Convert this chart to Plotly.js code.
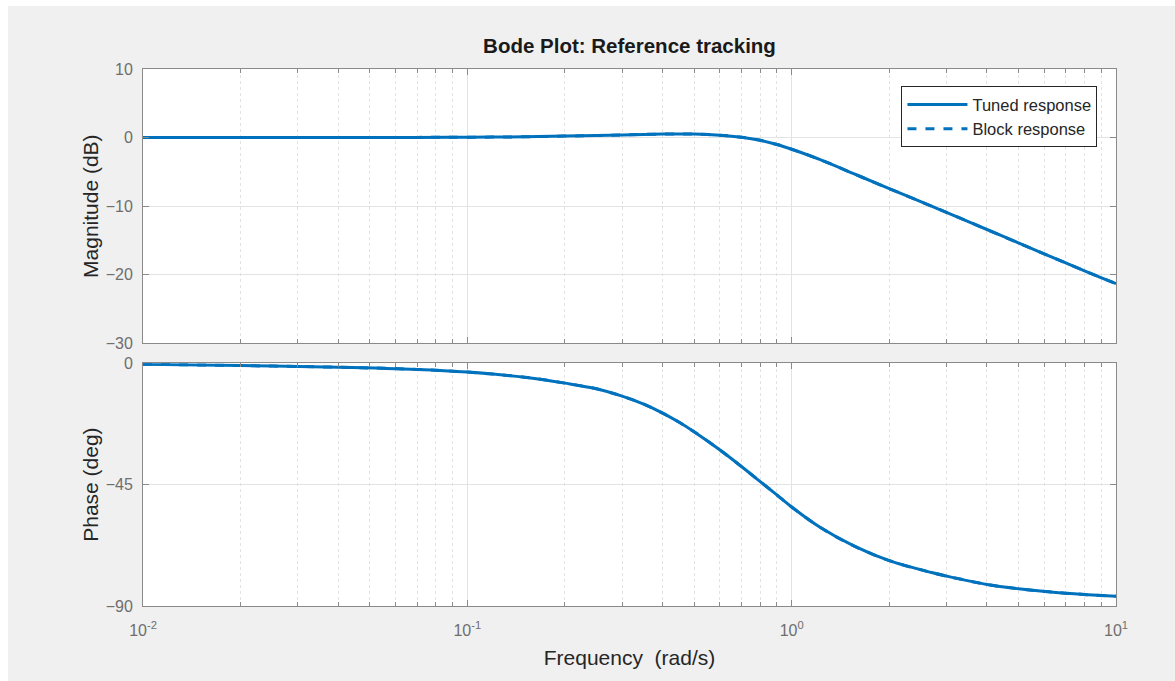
<!DOCTYPE html>
<html>
<head>
<meta charset="utf-8">
<script src="https://cdn.plot.ly/plotly-3.0.1.min.js"></script>
<style>
  html, body { margin: 0; padding: 0; background: #ffffff; }
  #chart { position: absolute; left: 8px; top: 6px; width: 1167px; height: 675px; }
</style>
</head>
<body>
<div id="chart"></div>
<script>
// Frequency grid (rad/s)
const freq = [0.01, 0.02, 0.04, 0.07, 0.1, 0.15, 0.2, 0.25, 0.3, 0.35, 0.4, 0.45, 0.5, 0.6, 0.7,
              0.8, 0.9, 1.0, 1.23, 1.56, 2.0, 2.7, 3.0, 4.0, 5.0, 6.4, 8.2, 10];

// Tuned response: magnitude (dB) and phase (deg)
const tunedMag = [0.00, 0.00, 0.01, 0.03, 0.05, 0.12, 0.22, 0.30, 0.38, 0.46, 0.52, 0.54, 0.52, 0.35, 0.05,
                  -0.40, -1.00, -1.70, -3.25, -5.30, -7.45, -10.00, -10.90, -13.40, -15.35, -17.50, -19.65, -21.30];
const tunedPhase = [-0.4, -0.9, -1.5, -2.3, -3.3, -5.2, -7.4, -9.5, -12.2, -15.2, -18.5, -21.9, -25.4, -32.1, -38.3,
                    -43.9, -48.8, -53.3, -61.0, -67.8, -73.2, -77.6, -78.9, -82.0, -83.6, -84.9, -85.8, -86.4];

// Block response (coincides with the tuned loop)
const blockMag = tunedMag.slice();
const blockPhase = tunedPhase.slice();

// Axis ticks
const xTickVals = [0.01, 0.1, 1, 10];
const xTickText = ['10<sup>-2</sup>', '10<sup>-1</sup>', '10<sup>0</sup>', '10<sup>1</sup>'];
const magTicks = [-30, -20, -10, 0, 10];
const phaseTicks = [-90, -45, 0];

// Minor (2..9 per decade) positions for the log axis
const minorVals = [];
for (let d = -2; d < 1; d++) {
  for (let m = 2; m <= 9; m++) minorVals.push(m * Math.pow(10, d));
}

const blue = '#0072BD';
const axisCol = '#8a8a8a';
const gridCol = '#e3e3e3';
const fam = 'Liberation Sans, Arial, sans-serif';
const tickFont = { family: fam, size: 16, color: '#6e6e6e' };
const labelFont = { family: fam, size: 21, color: '#262626' };

const traces = [
  { x: freq, y: blockMag, xaxis: 'x', yaxis: 'y', name: 'Block response', mode: 'lines',
    line: { color: blue, width: 3, dash: 'dash', shape: 'spline' }, showlegend: false },
  { x: freq, y: tunedMag, xaxis: 'x', yaxis: 'y', name: 'Tuned response', mode: 'lines',
    line: { color: blue, width: 3, shape: 'spline' }, legendrank: 1 },
  { x: freq, y: blockPhase, xaxis: 'x2', yaxis: 'y2', name: 'Block response', mode: 'lines',
    line: { color: blue, width: 3, dash: 'dash', shape: 'spline' }, legendrank: 2 },
  { x: freq, y: tunedPhase, xaxis: 'x2', yaxis: 'y2', name: 'Tuned response', mode: 'lines',
    line: { color: blue, width: 3, shape: 'spline' }, showlegend: false }
];

const xCommon = {
  type: 'log', range: [-2, 1],
  tickmode: 'array', tickvals: xTickVals, ticktext: xTickText,
  ticks: 'inside', ticklen: 6, tickcolor: axisCol, tickwidth: 1,
  showline: true, linecolor: axisCol, linewidth: 1, mirror: 'allticks',
  showgrid: true, gridcolor: gridCol, gridwidth: 1, zeroline: false,
  minor: { tickmode: 'array', tickvals: minorVals, ticks: 'inside', ticklen: 4,
           tickcolor: axisCol, showgrid: true, gridcolor: '#e2e2e2', griddash: 'dot', gridwidth: 1 },
  tickfont: tickFont, automargin: false
};

const yCommon = {
  tickmode: 'array', ticks: 'inside', ticklen: 6, tickcolor: axisCol,
  showline: true, linecolor: axisCol, linewidth: 1, mirror: 'allticks',
  showgrid: true, gridcolor: gridCol, zeroline: false,
  tickfont: tickFont, automargin: false, ticklabelstandoff: 6
};

const layout = {
  width: 1167, height: 675,
  paper_bgcolor: '#f0f0f0', plot_bgcolor: '#ffffff',
  margin: { l: 134.5, r: 59, t: 63.3, b: 75 },
  font: { family: fam },
  title: { text: '<b>Bode Plot: Reference tracking</b>', xref: 'paper', x: 0.5, xanchor: 'center',
           yref: 'container', y: 1 - 40 / 675, yanchor: 'middle',
           font: { family: fam, size: 20.5, color: '#1a1a1a' } },
  xaxis: Object.assign({}, xCommon, { anchor: 'y', showticklabels: false }),
  xaxis2: Object.assign({}, xCommon, { anchor: 'y2', matches: 'x', ticklabelstandoff: 10,
    title: { text: 'Frequency\u00a0 (rad/s)', font: labelFont, standoff: 12 } }),
  yaxis: Object.assign({}, yCommon, { domain: [0.4891, 1], range: [-30, 10], tickvals: magTicks,
    title: { text: 'Magnitude (dB)', font: labelFont, standoff: 1 } }),
  yaxis2: Object.assign({}, yCommon, { domain: [0, 0.4522], range: [-90, 0], tickvals: phaseTicks,
    title: { text: 'Phase (deg)', font: labelFont, standoff: 1 } }),
  showlegend: true,
  legend: {
    x: 0.7795, y: 0.968, xanchor: 'left', yanchor: 'top',
    bgcolor: '#ffffff', bordercolor: '#262626', borderwidth: 1,
    font: { family: fam, size: 16.5, color: '#262626' },
    itemwidth: 60,
    traceorder: 'normal', tracegroupgap: 0
  }
};

Plotly.newPlot('chart', traces, layout, { displayModeBar: false, staticPlot: true });
</script>
</body>
</html>
